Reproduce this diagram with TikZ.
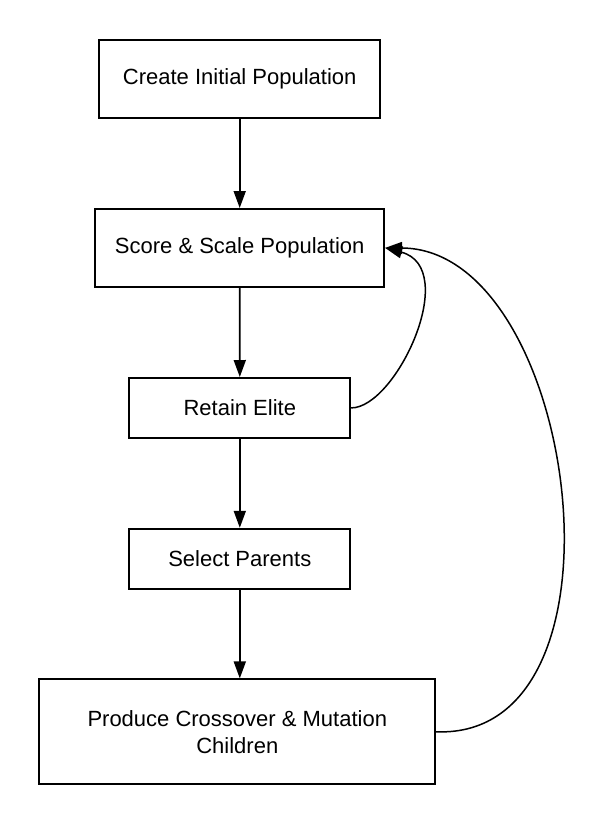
\documentclass[tikz,border=0pt]{standalone}
\usepackage{fontspec}
\setmainfont{Liberation Sans}
\usetikzlibrary{arrows.meta}
\begin{document}
\begin{tikzpicture}[x=1pt,y=-1pt,line width=1.8pt,
  box/.style={draw=black,rectangle,inner sep=0pt,align=center,
    font=\fontsize{22}{26.7}\selectfont},
  arr/.style={-{Triangle[length=17pt,width=12pt]},line width=1.8pt},
  back/.style={-{Triangle[length=17pt,width=12pt]},line width=1.5pt}]
\useasboundingbox (0,0) rectangle (599,825);
\fill[white] (0,0) rectangle (599,825);
\node[box,minimum width=281pt,minimum height=78pt] (cip) at (239.7,78.9) {Create Initial Population};
\node[box,minimum width=289pt,minimum height=78pt] (sc) at (239.7,247.9) {Score \& Scale Population};
\node[box,minimum width=221pt,minimum height=60pt] (re) at (239.8,407.9) {Retain Elite};
\node[box,minimum width=221pt,minimum height=60pt] (sp) at (239.8,558.7) {Select Parents};
\node[box,minimum width=396pt,minimum height=105pt] (pc) at (237.3,731.8) {Produce Crossover \& Mutation\\Children};
\draw[arr] (cip.south) -- (sc.north);
\draw[arr] (sc.south) -- (re.north);
\draw[arr] (re.south) -- (sp.north);
\draw[arr] (sp.south) -- (sp.south |- pc.north);
\draw[back] (re.east) .. controls +(45,0) and +(76,20) .. (sc.east);
\draw[back] (pc.east) .. controls +(205,8) and +(193,1) .. (sc.east);
\end{tikzpicture}
\end{document}
